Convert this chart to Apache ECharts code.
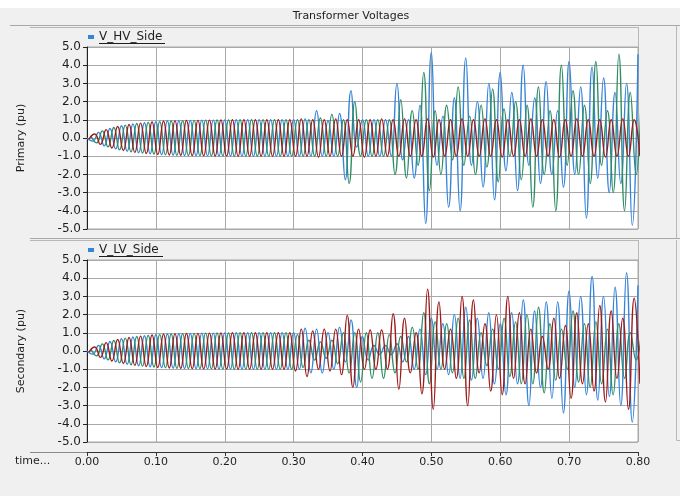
<!DOCTYPE html>
<html>
<head>
<meta charset="utf-8">
<title>Transformer Voltages</title>
<script src="https://cdn.jsdelivr.net/npm/echarts@6/dist/echarts.min.js"></script>
<style>
  html, body { margin: 0; padding: 0; background: #fff; }
  #chart { width: 680px; height: 496px; }
</style>
</head>
<body>
<div id="chart"></div>
<script>
// one value per half cycle (60 Hz -> 1/120 s)
var halfCycle = 1 / 120;
// phases are 120 deg apart -> peaks shifted by a third of a cycle
var phaseShift = [0, 1 / 180, 1 / 360];

var xTicks = [0, 0.1, 0.2, 0.3, 0.4, 0.5, 0.6, 0.7, 0.8];
var yTicks = [-5, -4, -3, -2, -1, 0, 1, 2, 3, 4, 5];

// HV side (Primary)
var hvBlue = [0, -0.17, 0.31, -0.43, 0.52, -0.6, 0.67, -0.73, 0.77, -0.81, 0.84, -0.87, 0.89, -0.91, 0.93, -0.94, 0.95, -0.96,
  0.96, -0.97, 0.98, -0.98, 0.98, -0.99, 0.99, -0.99, 1, -1, 1, -1, 1, -1, 1, -1, 1, -1,
  1.0, -1.0, 1.05, -1.0, 1.5, -1.0, 0.95, -1.0, 1.35, -2.3,
  2.6, -0.5, 1.0, -1.0, 1.0, -1.0, 1.0, -1.0, 3.0, -1.2,
  1.0, -2.2, 1.8, -4.7, 4.7, -1.5, 1.2, -3.8, 2.2, -4.0,
  4.4, -1.5, 2.0, -2.7, 3.0, -3.4, 3.6, -1.8, 2.5, -2.9,
  4.0, -1.5, 2.2, -2.5, 3.1, -2.0, 1.5, -2.7, 4.2, -2.0,
  2.8, -4.4, 3.9, -2.2, 3.3, -3.0, 2.5, -2.5, 3.0, -4.8,
  4.6];
var hvGreen = [0.12, -0.27, 0.39, -0.49, 0.58, -0.65, 0.71, -0.76, 0.8, -0.83, 0.86, -0.88, 0.9, -0.92, 0.93, -0.95, 0.95, -0.96,
  0.97, -0.97, 0.98, -0.98, 0.99, -0.99, 0.99, -1, 1, -1, 1, -1, 1, -1, 1, -1, 1, -1,
  1.0, -1.0, 1.0, -1.0, 1.1, -1.0, 1.3, -1.0, 1.0, -2.5,
  2.0, -1.0, 1.0, -1.0, 1.0, -1.0, 1.0, -2.0, 2.1, -2.2,
  1.5, -1.5, 3.6, -2.9, 1.5, -2.0, 1.8, -1.2, 2.8, -1.5,
  1.2, -2.0, 1.8, -1.6, 2.7, -2.4, 1.6, -1.0, 2.0, -2.3,
  1.8, -3.8, 2.8, -2.0, 1.5, -4.0, 4.0, -1.5, 2.6, -2.0,
  1.8, -2.5, 4.2, -1.5, 1.5, -3.0, 4.6, -4.0, 2.5, -2.0,
  3.3];
var hvRed = [-0.06, 0.22, -0.35, 0.46, -0.55, 0.63, -0.69, 0.74, -0.79, 0.82, -0.85, 0.88, -0.9, 0.92, -0.93, 0.94, -0.95, 0.96,
  -0.97, 0.97, -0.98, 0.98, -0.99, 0.99, -0.99, 1, -1, 1, -1, 1, -1, 1, -1, 1, -1, 1,
  -1.0, 1.05, -1.0, 1.0, -1.05, 1.0, -1.0, 1.05, -1.0, 1.0,
  -1.0, 1.0, -1.05, 1.0, -1.0, 1.05, -1.0, 1.0, -1.0, 1.05,
  -1.0, 1.0, -1.0, 1.05, -1.05, 1.0, -1.0, 1.0, -1.0, 1.05,
  -1.0, 1.0, -1.0, 1.05, -1.0, 1.0, -1.05, 1.0, -1.0, 1.0,
  -1.0, 1.05, -1.0, 1.0, -1.0, 1.0, -1.05, 1.0, -1.0, 1.05,
  -1.0, 1.0, -1.0, 1.0, -1.05, 1.0, -1.0, 1.05, -1.0, 1.0,
  -1.0];

// LV side (Secondary)
var lvBlue = [0, -0.17, 0.31, -0.43, 0.52, -0.6, 0.67, -0.73, 0.77, -0.81, 0.84, -0.87, 0.89, -0.91, 0.93, -0.94, 0.95, -0.96,
  0.96, -0.97, 0.98, -0.98, 0.98, -0.99, 0.99, -0.99, 1, -1, 1, -1, 1, -1, 1, -1, 1, -1,
  1.0, -1.0, 1.25, -1.2, 1.2, -1.2, 1.0, -1.0, 1.3, -0.6,
  1.7, -2.0, 0.8, -0.5, 0.3, -0.2, 0.3, -0.2, 0.4, -0.6,
  0.8, -1.0, 1.2, -1.3, 1.8, -1.0, 1.5, -1.3, 2.0, -1.5,
  2.4, -1.6, 1.8, -1.5, 2.1, -1.8, 1.5, -2.4, 2.1, -1.8,
  2.8, -3.0, 2.2, -2.0, 2.7, -2.6, 2.7, -3.4, 3.3, -2.0,
  3.0, -2.4, 4.1, -2.7, 3.0, -2.5, 3.5, -3.0, 4.3, -3.9,
  3.6];
var lvGreen = [0.12, -0.27, 0.39, -0.49, 0.58, -0.65, 0.71, -0.76, 0.8, -0.83, 0.86, -0.88, 0.9, -0.92, 0.93, -0.95, 0.95, -0.96,
  0.97, -0.97, 0.98, -0.98, 0.99, -0.99, 0.99, -1, 1, -1, 1, -1, 1, -1, 1, -1, 1, -1,
  0.9, -0.9, 0.6, -0.5, 0.5, -0.4, 0.6, -0.7, 1.0, -1.2,
  1.0, -1.7, 1.0, -1.5, 1.0, -1.5, 0.9, -1.2, 0.8, -0.6,
  1.3, -1.0, 2.1, -1.8, 1.6, -1.0, 1.5, -1.2, 1.8, -1.5,
  1.7, -1.5, 1.0, -0.8, 1.2, -1.0, 1.8, -1.4, 1.6, -1.8,
  2.0, -1.8, 2.4, -2.3, 1.5, -1.6, 1.2, -1.0, 2.2, -1.7,
  1.5, -2.0, 1.6, -1.8, 1.2, -2.4, 1.5, -1.5, 1.0, -0.5,
  1.3];
var lvRed = [-0.06, 0.22, -0.35, 0.46, -0.55, 0.63, -0.69, 0.74, -0.79, 0.82, -0.85, 0.88, -0.9, 0.92, -0.93, 0.94, -0.95, 0.96,
  -0.97, 0.97, -0.98, 0.98, -0.99, 0.99, -0.99, 1, -1, 1, -1, 1, -1, 1, -1, 1, -1, 1,
  -1.1, 1.2, -1.4, 1.1, -1.0, 1.2, -1.1, 1.2, -1.3, 1.96,
  -2.0, 1.2, -1.0, 1.15, -1.0, 1.15, -1.0, 2.05, -2.1, 1.8,
  -1.2, 1.0, -2.35, 3.4, -3.2, 2.7, -1.0, 1.2, -1.5, 3.0,
  -3.0, 2.8, -1.2, 1.5, -2.2, 2.0, -2.4, 3.0, -1.5, 2.1,
  -1.8, 1.2, -1.2, 0.8, -1.0, 1.8, -1.5, 1.4, -2.6, 2.1,
  -1.8, 1.5, -2.2, 2.5, -2.8, 2.2, -1.5, 1.8, -3.2, 2.9,
  -1.8];

var FONT = 'DejaVu Sans';
var GRID_LINE = '#a9a9a9';
var INK = '#1e1e1e';
var colors = ['#3584d8', '#2f8c64', '#9e1a1a'];

//把半周期极值转成 [t, v]
var toPoints = function(values, shift){
	return values.map(function(v, j){ return [j * halfCycle + shift, v]; });
};

var makeSeries = function(name, values, phase, gi){
	return {
		name: name, type: 'line', xAxisIndex: gi, yAxisIndex: gi,
		data: toPoints(values, phaseShift[phase]),
		smooth: 0.5, showSymbol: false, symbol: 'none', silent: true,
		lineStyle: {width: 1.4, color: colors[phase]},
		itemStyle: {color: colors[phase]}
	};
};

var xAxisOf = function(gi, withLabels){
	return {
		type: 'value', gridIndex: gi, min: xTicks[0], max: xTicks[xTicks.length - 1], interval: 0.1,
		offset: withLabels ? 10 : 0,
		axisLine: {show: withLabels, onZero: false, lineStyle: {color: '#333'}},
		axisTick: {show: withLabels, length: 4, lineStyle: {color: '#333'}},
		axisLabel: {show: withLabels, margin: 5, fontSize: 11, fontFamily: FONT, color: INK,
			formatter: function(v){ return v.toFixed(2); }},
		splitLine: {show: true, lineStyle: {color: GRID_LINE, width: 1}}
	};
};

var yAxisOf = function(gi, name){
	return {
		type: 'value', gridIndex: gi, min: yTicks[0], max: yTicks[yTicks.length - 1], interval: 1,
		name: name, nameLocation: 'middle', nameGap: 60, nameRotate: 90,
		nameTextStyle: {fontSize: 11, fontFamily: FONT, color: INK},
		axisLine: {show: true, onZero: false, lineStyle: {color: '#222'}},
		axisTick: {show: true, length: 4, lineStyle: {color: '#222'}},
		axisLabel: {margin: 6, fontSize: 12, fontFamily: FONT, color: INK,
			formatter: function(v){ return v.toFixed(1); }},
		splitLine: {show: true, lineStyle: {color: GRID_LINE, width: 1}}
	};
};

var legendOf = function(name, top){
	return {
		data: [name], left: 88, top: top, padding: 0, icon: 'rect', itemWidth: 6, itemHeight: 4,
		selectedMode: false, textStyle: {fontSize: 12, fontFamily: FONT, color: INK}
	};
};

var line = function(x1, y1, x2, y2, color){
	return {type: 'line', shape: {x1: x1, y1: y1, x2: x2, y2: y2}, style: {stroke: color || '#b8b8b8', lineWidth: 1}, silent: true};
};

var chart = echarts.init(document.getElementById('chart'), null, {renderer: 'canvas'});
chart.setOption({
	animation: false,
	backgroundColor: '#f0f0f0',
	textStyle: {fontFamily: FONT},
	grid: [
		{left: 87, right: 42, top: 47, height: 182, show: true, backgroundColor: '#fff', borderColor: GRID_LINE, borderWidth: 1},
		{left: 87, right: 42, top: 260, height: 182, show: true, backgroundColor: '#fff', borderColor: GRID_LINE, borderWidth: 1}
	],
	xAxis: [xAxisOf(0, false), xAxisOf(1, true)],
	yAxis: [yAxisOf(0, 'Primary (pu)'), yAxisOf(1, 'Secondary (pu)')],
	legend: [legendOf('V_HV_Side', 31), legendOf('V_LV_Side', 244)],
	series: [
		makeSeries('V_HV_Side', hvBlue, 0, 0),
		makeSeries('V_HV_Side', hvGreen, 1, 0),
		makeSeries('V_HV_Side', hvRed, 2, 0),
		makeSeries('V_LV_Side', lvBlue, 0, 1),
		makeSeries('V_LV_Side', lvGreen, 1, 1),
		makeSeries('V_LV_Side', lvRed, 2, 1)
	],
	graphic: [
		{type: 'rect', shape: {x: 0, y: 0, width: 680, height: 8}, style: {fill: '#fff'}, silent: true},
		line(10, 25.5, 680, 25.5, '#a8a8a8'),
		{type: 'text', x: 351, y: 16, silent: true,
			style: {text: 'Transformer Voltages', font: '11px "DejaVu Sans"', fill: INK, align: 'center', verticalAlign: 'middle'}},
		// panel frames
		line(30, 27.5, 638, 27.5), line(638.5, 27, 638.5, 47), line(676.5, 26, 676.5, 238),
		line(30, 238.5, 680, 238.5, '#a8a8a8'),
		line(30, 240.5, 638, 240.5), line(638.5, 240, 638.5, 260), line(676.5, 240, 676.5, 440.5), line(676.5, 440.5, 680, 440.5),
		line(30, 452.5, 87, 452.5, '#8a8a8a'),
		// legend underlines
		line(99, 43.5, 165, 43.5, INK),
		line(99, 256.5, 163, 256.5, INK),
		{type: 'text', x: 15, y: 461, silent: true,
			style: {text: 'time...', font: '11px "DejaVu Sans"', fill: INK, align: 'left', verticalAlign: 'middle'}}
	]
});
</script>
</body>
</html>
